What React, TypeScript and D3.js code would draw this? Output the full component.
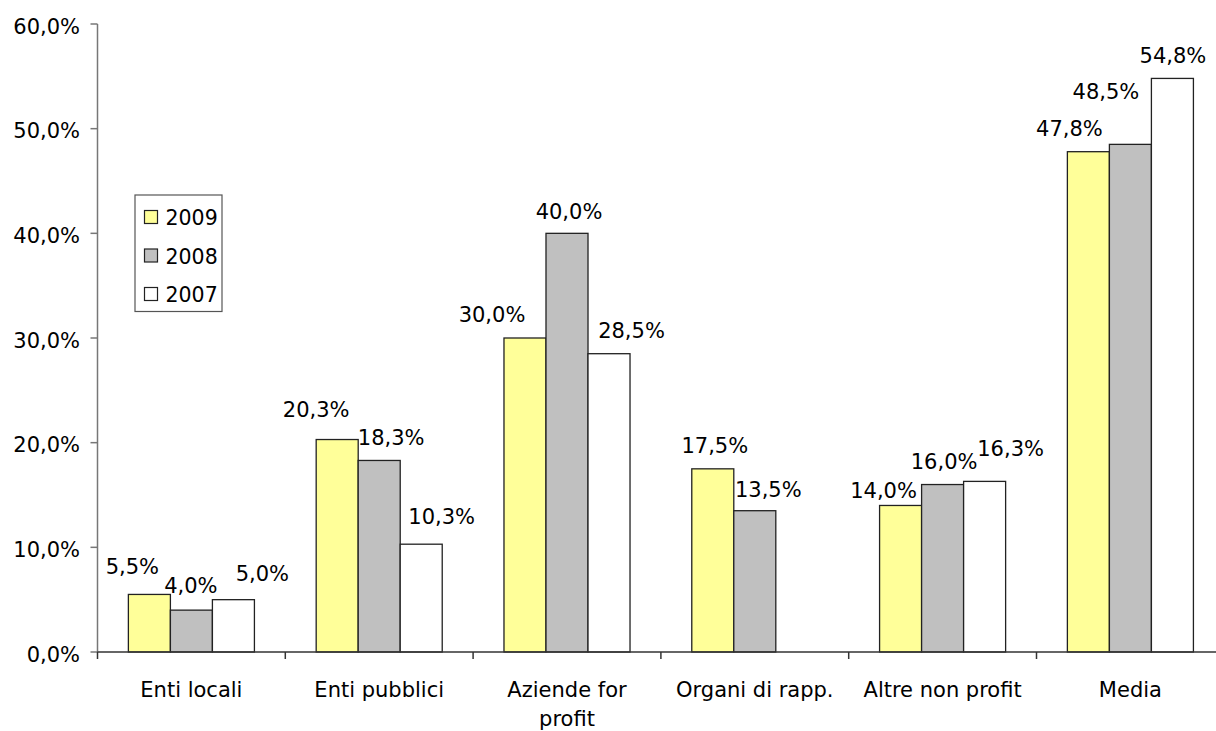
import React from "react";
import * as d3 from "d3";

const categories = ["Enti locali", "Enti pubblici", "Aziende for\nprofit", "Organi di rapp.", "Altre non profit", "Media"];
const seriesNames = ["2009", "2008", "2007"];
const values2009 = [5.5, 20.3, 30.0, 17.5, 14.0, 47.8];
const values2008 = [4.0, 18.3, 40.0, 13.5, 16.0, 48.5];
const values2007: (number | null)[] = [5.0, 10.3, 28.5, null, 16.3, 54.8];
const yTicks = [0, 10, 20, 30, 40, 50, 60];

// label placement (dx from bar centre, gap from bar top to baseline)
const labelPlace2009 = [[-17, 20], [-21, 22.5], [-33, 16.5], [2, 16], [-17, 7.5], [-19, 15.5]];
const labelPlace2008 = [[-0.5, 17.5], [12, 15.5], [2, 14], [13.5, 13.5], [1.5, 15.5], [-24.5, 45]];
const labelPlace2007 = [[29, 18.5], [20.5, 20.5], [22.5, 16], [0, 0], [26, 25.5], [0.5, 15.5]];

const colors = ["#FFFF99", "#C0C0C0", "#FFFFFF"];
const FONT = "'DejaVu Sans', Verdana, sans-serif";

const fmt = (v: number) => v.toFixed(1).replace(".", ",") + "%";

export default function App() {
  const W = 1216, H = 731;
  const x0 = 97.5;
  const step = 187.8;
  const x = d3.scaleBand<string>().domain(categories).range([x0, x0 + step * categories.length]).padding(0);
  const xs = d3.scaleBand<string>().domain(seriesNames).range([0, x.bandwidth()]).paddingInner(0).paddingOuter(0.735);
  const y = d3.scaleLinear().domain([0, 60]).range([652, 24]);

  const allSeries = [values2009, values2008, values2007];
  const allPlace = [labelPlace2009, labelPlace2008, labelPlace2007];

  return (
    <svg width={W} height={H} style={{ position: "absolute", left: 0, top: 0, background: "#fff" }} fontFamily={FONT}>
      <rect x={0} y={0} width={W} height={H} fill="#fff" />
      {/* bars */}
      {allSeries.map((vals, si) =>
        vals.map((v, ci) => {
          if (v == null) return null;
          const bx = (x(categories[ci]) as number) + (xs(seriesNames[si]) as number);
          return (
            <rect key={`b${si}-${ci}`} x={bx} y={y(v)} width={xs.bandwidth()} height={y(0) - y(v)}
              fill={colors[si]} stroke="#222" strokeWidth={1.3} />
          );
        })
      )}
      {/* labels */}
      {allSeries.map((vals, si) =>
        vals.map((v, ci) => {
          if (v == null) return null;
          const cx = (x(categories[ci]) as number) + (xs(seriesNames[si]) as number) + xs.bandwidth() / 2;
          const [dx, gap] = allPlace[si][ci];
          return (
            <text key={`l${si}-${ci}`} x={cx + dx} y={y(v) - gap} textAnchor="middle" fontSize={21} fill="#000">
              {fmt(v)}
            </text>
          );
        })
      )}
      {/* y axis */}
      <line x1={x0} x2={x0} y1={y(60)} y2={y(0)} stroke="#777" strokeWidth={1.5} />
      {yTicks.map((t) => (
        <g key={`yt${t}`}>
          <line x1={x0 - 7} x2={x0} y1={y(t)} y2={y(t)} stroke="#777" strokeWidth={1.5} />
          <text x={80} y={y(t) + 9.5} textAnchor="end" fontSize={21} fill="#000">{fmt(t)}</text>
        </g>
      ))}
      {/* x axis */}
      <line x1={x0} x2={x0 + step * categories.length} y1={y(0)} y2={y(0)} stroke="#333" strokeWidth={1.5} />
      {categories.map((c, i) => (
        <line key={`xt${i}`} x1={(x(c) as number)} x2={(x(c) as number)} y1={y(0)} y2={y(0) + 7} stroke="#333" strokeWidth={1.5} />
      ))}
      {categories.map((c) => {
        const lines = c.split("\n");
        const cx = (x(c) as number) + x.bandwidth() / 2;
        return (
          <text key={`xl${c}`} x={cx} y={697} textAnchor="middle" fontSize={21} fill="#000">
            {lines.map((ln, k) => (
              <tspan key={k} x={cx} dy={k === 0 ? 0 : 29}>{ln}</tspan>
            ))}
          </text>
        );
      })}
      {/* legend */}
      <g>
        <rect x={135} y={195} width={87} height={116.5} fill="#fff" stroke="#555" strokeWidth={1.2} />
        {seriesNames.map((s, i) => (
          <g key={`lg${s}`}>
            <rect x={144.5} y={210.5 + i * 38.5} width={13} height={13} fill={colors[i]} stroke="#222" strokeWidth={1.2} />
            <text x={165.5} y={225 + i * 38.5} fontSize={20.5} fill="#000">{s}</text>
          </g>
        ))}
      </g>
    </svg>
  );
}
